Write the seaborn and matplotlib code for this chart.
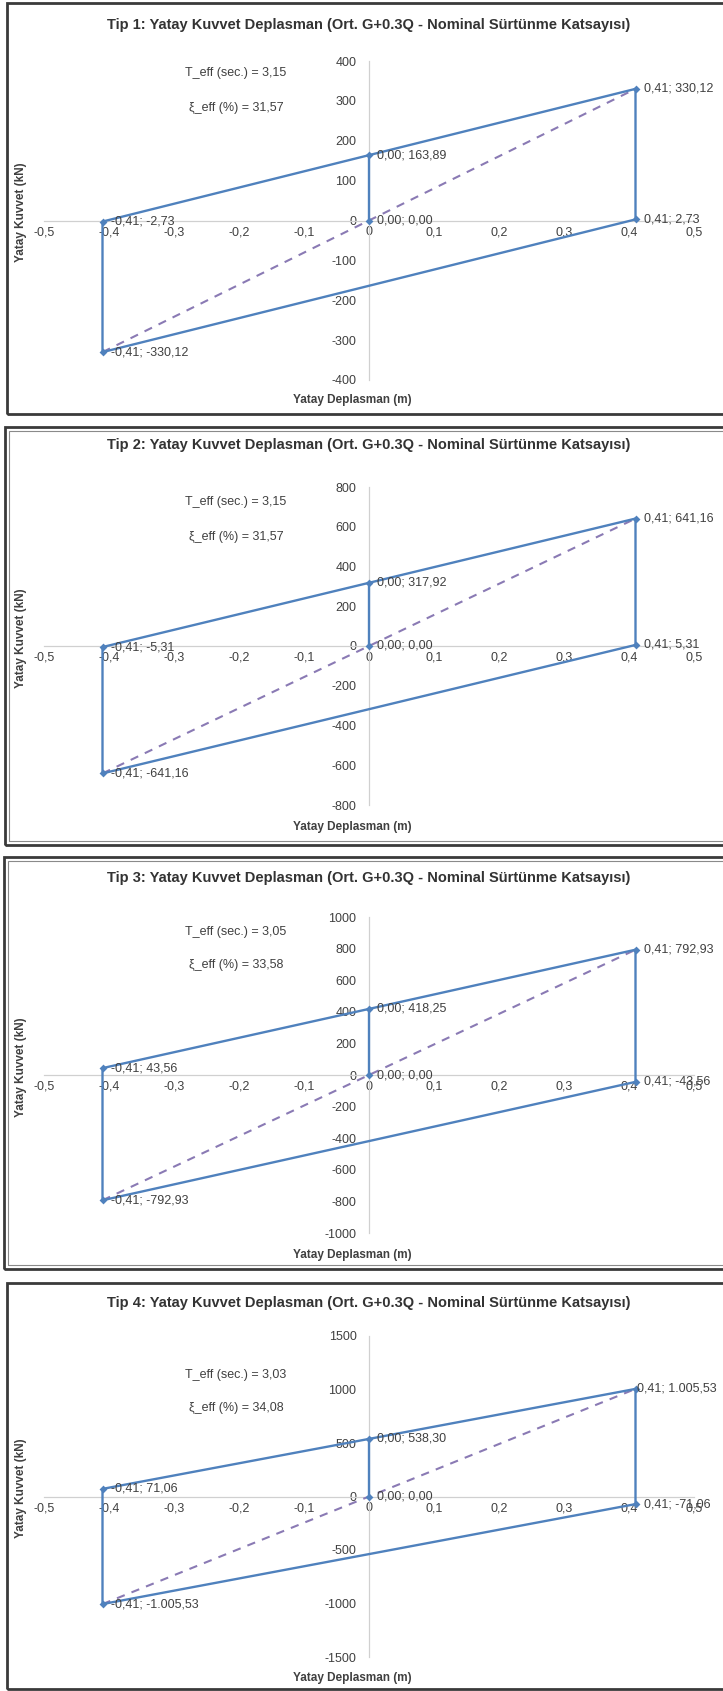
import matplotlib
matplotlib.use("Agg")
import matplotlib.pyplot as plt
from matplotlib.patches import Rectangle
from matplotlib.ticker import FuncFormatter, MultipleLocator, FixedLocator
import pandas as pd
import seaborn as sns

sns.set_theme(style="white")
plt.rcParams["font.family"] = ["Liberation Sans", "DejaVu Sans"]

# ---- data -----------------------------------------------------------------
types = ["Tip 1", "Tip 2", "Tip 3", "Tip 4"]
d_max = [0.41, 0.41, 0.41, 0.41]                 # max displacement (m)
f_max = [330.12, 641.16, 792.93, 1005.53]        # force at max displacement (kN)
f_zero = [163.89, 317.92, 418.25, 538.30]        # force at zero displacement (kN)
f_rev = [2.73, 5.31, -43.56, -71.06]             # lower branch end force at +d_max (kN)
t_eff = [3.15, 3.15, 3.05, 3.03]
xi_eff = [31.57, 31.57, 33.58, 34.08]
y_limit = [400, 800, 1000, 1500]
y_step = [100, 200, 200, 500]
x_ticks = [-0.5, -0.4, -0.3, -0.2, -0.1, 0.0, 0.1, 0.2, 0.3, 0.4, 0.5]

title_tpl = "{}: Yatay Kuvvet Deplasman (Ort. G+0.3Q - Nominal Sürtünme Katsayısı)"
x_label = "Yatay Deplasman (m)"
y_label = "Yatay Kuvvet (kN)"

# ---- layout (pixels) --------------------------------------------------------
W, H = 723, 1691
AX_L, AX_R = 44, 694
ax_top = [61, 487, 917, 1336]
ax_bot = [380, 805, 1233, 1657]
frame_top = [3, 427, 857, 1283]
frame_bot = [414, 845, 1269, 1689]
frame_left = [7, 5, 4, 7]
title_y = [25, 445, 878, 1303]
teff_y = [73, 502, 932, 1375]
xi_y = [108, 537, 965, 1408]
xlab_y = [400, 827, 1255, 1678]

BLUE = "#4F81BD"
PURPLE = "#8A7AB4"
TXT = "#404040"
AXIS = "#D0D0D0"


def fx(px):
    return px / W


def fy(py):
    return 1 - py / H


def tr_num(v):
    s = f"{v:,.2f}"
    return s.replace(",", "X").replace(".", ",").replace("X", ".")


def tr_dec(v):
    return f"{v:.2f}".replace(".", ",")


def x_fmt(v, _pos):
    v = round(v, 2)
    if v == 0:
        return "0"
    return f"{v:g}".replace(".", ",")


def y_fmt(v, _pos):
    return f"{int(round(v))}"


fig = plt.figure(figsize=(W / 100, H / 100), dpi=100)
fig.patch.set_facecolor("white")

for i in range(4):
    d, fm, f0, fr = d_max[i], f_max[i], f_zero[i], f_rev[i]

    # panel frame
    fig.add_artist(Rectangle((fx(frame_left[i]), fy(frame_bot[i])),
                             fx(W + 20 - frame_left[i]),
                             (frame_bot[i] - frame_top[i]) / H,
                             transform=fig.transFigure, fill=False,
                             ec="#3a3a3a", lw=2.0))
    if i in (1, 2):
        fig.add_artist(Rectangle((fx(frame_left[i] + 4), fy(frame_bot[i] - 4)),
                                 fx(W + 20 - frame_left[i]),
                                 (frame_bot[i] - frame_top[i] - 8) / H,
                                 transform=fig.transFigure, fill=False,
                                 ec="#8a8a8a", lw=0.8))

    ax = fig.add_axes([fx(AX_L), fy(ax_bot[i]), (AX_R - AX_L) / W,
                       (ax_bot[i] - ax_top[i]) / H])
    ax.set_facecolor("none")

    # hysteresis loop
    loop = pd.DataFrame({
        "d": [0.0, 0.0, d, d, -d, -d, 0.0],
        "f": [0.0, f0, fm, fr, -fm, -fr, f0],
    })
    sns.lineplot(data=loop, x="d", y="f", sort=False, estimator=None,
                 color=BLUE, lw=1.7, ax=ax, zorder=3)

    # effective stiffness line
    eff = pd.DataFrame({"d": [-d, 0.0, d], "f": [-fm, 0.0, fm]})
    sns.lineplot(data=eff, x="d", y="f", sort=False, estimator=None,
                 color=PURPLE, lw=1.5, linestyle=(0, (4, 3.5)), ax=ax, zorder=2)

    pts = pd.DataFrame({
        "d": [-d, 0.0, 0.0, d, d, -d],
        "f": [-fr, f0, 0.0, fm, fr, -fm],
    })
    sns.scatterplot(data=pts, x="d", y="f", marker="D", s=16, color=BLUE,
                    edgecolor=BLUE, linewidth=0, ax=ax, zorder=4)
    for xv, yv in zip(pts["d"], pts["f"]):
        label = f"{tr_num(xv)}; {tr_num(yv)}"
        # long labels at the right edge start right at the marker
        dx = 1 if (xv > 0 and len(label) > 13) else 6
        ax.annotate(label, (xv, yv),
                    xytext=(dx, 0), textcoords="offset points",
                    ha="left", va="center", fontsize=9, color=TXT,
                    zorder=5, annotation_clip=False)

    lim = y_limit[i]
    ax.set_xlim(-0.5, 0.5)
    ax.set_ylim(-lim, lim)
    ax.xaxis.set_major_locator(FixedLocator(x_ticks))
    ax.yaxis.set_major_locator(MultipleLocator(y_step[i]))
    ax.xaxis.set_major_formatter(FuncFormatter(x_fmt))
    ax.yaxis.set_major_formatter(FuncFormatter(y_fmt))

    ax.spines["left"].set_position(("data", 0))
    ax.spines["bottom"].set_position(("data", 0))
    for side in ("top", "right"):
        ax.spines[side].set_visible(False)
    for side in ("left", "bottom"):
        ax.spines[side].set_color(AXIS)
        ax.spines[side].set_linewidth(0.9)
        ax.spines[side].set_zorder(1)
    ax.tick_params(axis="both", length=0, labelsize=9, colors=TXT)
    ax.tick_params(axis="y", pad=9)
    ax.tick_params(axis="x", pad=4)
    ax.set_xlabel("")
    ax.set_ylabel("")
    ax.grid(False)

    # titles and axis captions
    fig.text(fx(369), fy(title_y[i]), title_tpl.format(types[i]),
             ha="center", va="center", fontsize=10.5, fontweight="bold",
             color="#333333")
    fig.text(fx(352), fy(xlab_y[i]), x_label, ha="center", va="center",
             fontsize=8.5, fontweight="bold", color=TXT)
    zero_px = (ax_top[i] + ax_bot[i]) / 2
    fig.text(fx(21), fy(zero_px - 8), y_label, ha="center", va="center",
             rotation=90, fontsize=8.5, fontweight="bold", color=TXT)

    # effective period and damping notes
    fig.text(fx(236), fy(teff_y[i]), "T_eff (sec.) = " + tr_dec(t_eff[i]),
             ha="center", va="center", fontsize=9, color=TXT)
    fig.text(fx(236), fy(xi_y[i]), "ξ_eff (%) = " + tr_dec(xi_eff[i]),
             ha="center", va="center", fontsize=9, color=TXT)

fig.savefig("out.png", dpi=100, facecolor="white")
